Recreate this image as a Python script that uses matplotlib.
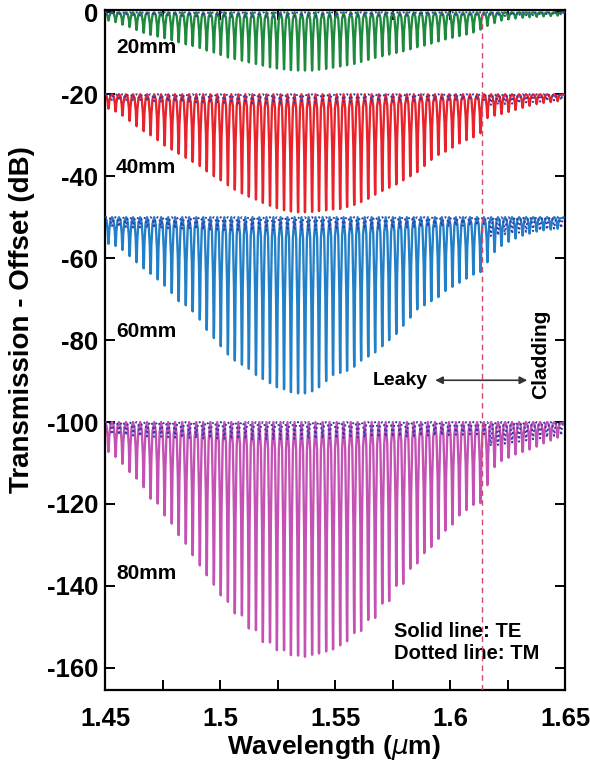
import numpy as np
import matplotlib.pyplot as plt

plt.rcParams['font.family'] = ['Liberation Sans', 'DejaVu Sans']
plt.rcParams['axes.unicode_minus'] = False

# resonance dip wavelengths (um)
dip_wl = [1.4515, 1.4546, 1.4576, 1.4607, 1.4637, 1.4668, 1.4698, 1.4729, 1.4759, 1.4790,
          1.4820, 1.4851, 1.4881, 1.4912, 1.4942, 1.4973, 1.5003, 1.5034, 1.5064, 1.5095,
          1.5125, 1.5156, 1.5186, 1.5217, 1.5247, 1.5278, 1.5308, 1.5339, 1.5369, 1.5400,
          1.5430, 1.5461, 1.5491, 1.5522, 1.5552, 1.5583, 1.5613, 1.5644, 1.5674, 1.5705,
          1.5735, 1.5766, 1.5796, 1.5827, 1.5857, 1.5888, 1.5918, 1.5949, 1.5979, 1.6010,
          1.6040, 1.6071, 1.6101, 1.6132, 1.6162, 1.6193, 1.6223, 1.6254, 1.6284, 1.6315,
          1.6345, 1.6376, 1.6406, 1.6437, 1.6467]

# TE dip bottoms (dB, offset already applied)
te_20mm = [-2.0, -2.4, -3.0, -3.6, -4.3, -5.0, -5.5, -5.9, -6.3, -6.8,
           -7.3, -7.8, -8.2, -8.7, -9.3, -9.8, -10.4, -11.0, -11.4, -11.8,
           -12.2, -12.6, -13.0, -13.4, -13.7, -13.9, -14.1, -14.2, -14.2, -14.2,
           -14.0, -13.8, -13.5, -13.2, -12.9, -12.6, -12.1, -11.6, -11.1, -10.7,
           -10.3, -9.9, -9.5, -9.0, -8.5, -8.1, -7.6, -7.1, -6.6, -6.2,
           -5.8, -5.4, -4.9, -4.2, -3.3, -2.6, -2.0, -1.7, -1.5, -1.3,
           -1.2, -1.1, -1.0, -0.9, -0.8]
te_40mm = [-23.5, -24.2, -25.2, -26.5, -27.8, -29.0, -30.0, -31.2, -32.5, -33.5,
           -34.5, -35.5, -36.5, -37.5, -38.8, -40.0, -41.0, -42.2, -43.3, -44.2,
           -45.0, -45.7, -46.5, -47.2, -47.8, -48.3, -48.6, -48.8, -48.8, -48.7,
           -48.5, -48.3, -48.1, -48.0, -47.5, -47.0, -46.3, -45.5, -44.5, -43.6,
           -42.8, -42.0, -41.0, -40.0, -39.0, -37.5, -36.0, -34.8, -34.0, -33.0,
           -32.0, -31.2, -30.5, -29.5, -25.8, -25.2, -24.8, -24.3, -23.8, -23.3,
           -22.8, -22.4, -22.1, -21.9, -21.7]
te_60mm = [-56.5, -57.0, -58.0, -59.5, -61.0, -62.5, -63.8, -65.2, -66.7, -68.5,
           -70.5, -71.5, -73.0, -75.0, -77.5, -79.5, -81.5, -83.5, -85.0, -86.0,
           -87.0, -88.5, -89.5, -90.5, -91.5, -92.0, -92.7, -93.0, -93.0, -92.5,
           -91.5, -90.0, -88.5, -88.0, -87.5, -86.5, -85.0, -84.0, -83.0, -81.5,
           -80.0, -78.5, -76.5, -74.5, -72.5, -71.5, -70.5, -69.5, -68.0, -67.0,
           -66.0, -65.0, -64.0, -63.4, -61.0, -58.5, -57.0, -56.0, -55.2, -54.5,
           -54.0, -53.5, -53.2, -53.0, -52.8]
te_80mm = [-107.3, -108.5, -110.2, -112.2, -113.8, -115.9, -118.7, -119.9, -122.8, -124.8,
           -127.6, -129.7, -132.5, -135.0, -137.4, -139.7, -142.3, -143.9, -146.7, -147.2,
           -150.4, -150.8, -153.7, -153.8, -155.7, -155.7, -156.9, -157.0, -157.3, -156.8,
           -156.5, -156.0, -155.5, -154.5, -153.5, -151.5, -151.0, -148.3, -147.8, -144.3,
           -143.7, -140.0, -139.5, -135.8, -134.5, -132.0, -130.5, -128.5, -126.5, -125.0,
           -122.8, -121.5, -120.2, -119.8, -115.4, -111.0, -109.5, -108.7, -107.9, -107.3,
           -106.7, -106.0, -105.2, -104.5, -103.8]

# TM dip depth below each offset (dB)
tm_20mm = [0.6, 0.7, 0.6, 0.7, 0.8, 0.7, 0.8, 0.8, 0.9, 0.8,
           0.9, 0.9, 1.0, 0.9, 1.0, 1.0, 1.0, 1.1, 1.0, 1.1,
           1.1, 1.0, 1.1, 1.1, 1.0, 1.1, 1.0, 1.1, 1.0, 1.0,
           1.0, 0.9, 1.0, 0.9, 0.9, 0.9, 0.8, 0.9, 0.8, 0.8,
           0.8, 0.7, 0.8, 0.7, 0.7, 0.7, 0.6, 0.7, 0.6, 0.6,
           0.6, 0.6, 0.6, 0.6, 0.8, 0.9, 0.9, 0.8, 0.8, 0.7,
           0.7, 0.6, 0.6, 0.5, 0.5]
tm_40mm = [1.4, 1.5, 1.5, 1.6, 1.6, 1.7, 1.7, 1.8, 1.8, 1.9,
           1.9, 2.0, 2.0, 2.0, 2.1, 2.1, 2.1, 2.2, 2.2, 2.2,
           2.2, 2.2, 2.2, 2.2, 2.2, 2.2, 2.1, 2.1, 2.1, 2.1,
           2.0, 2.0, 2.0, 1.9, 1.9, 1.9, 1.8, 1.8, 1.8, 1.7,
           1.7, 1.7, 1.6, 1.6, 1.6, 1.5, 1.5, 1.5, 1.4, 1.4,
           1.4, 1.4, 1.4, 1.4, 2.6, 2.5, 2.4, 2.3, 2.2, 2.0,
           1.9, 1.8, 1.6, 1.5, 1.4]
tm_60mm = [2.2, 2.3, 2.4, 2.5, 2.5, 2.6, 2.6, 2.7, 2.7, 2.8,
           2.8, 2.9, 2.9, 3.0, 3.0, 3.0, 3.1, 3.1, 3.1, 3.1,
           3.2, 3.2, 3.2, 3.2, 3.2, 3.2, 3.1, 3.1, 3.1, 3.1,
           3.0, 3.0, 3.0, 2.9, 2.9, 2.8, 2.8, 2.7, 2.7, 2.6,
           2.6, 2.5, 2.5, 2.4, 2.4, 2.3, 2.3, 2.2, 2.2, 2.1,
           2.1, 2.0, 2.0, 2.0, 4.6, 4.4, 4.2, 4.0, 3.8, 3.6,
           3.4, 3.2, 3.0, 2.8, 2.6]
tm_80mm = [3.0, 3.1, 3.2, 3.3, 3.4, 3.5, 3.6, 3.6, 3.7, 3.8,
           3.8, 3.9, 3.9, 4.0, 4.0, 4.0, 4.1, 4.1, 4.1, 4.1,
           4.2, 4.2, 4.2, 4.2, 4.2, 4.2, 4.1, 4.1, 4.1, 4.1,
           4.0, 4.0, 4.0, 3.9, 3.9, 3.8, 3.8, 3.7, 3.7, 3.6,
           3.6, 3.5, 3.5, 3.4, 3.4, 3.3, 3.3, 3.2, 3.2, 3.1,
           3.1, 3.0, 3.0, 3.0, 5.8, 5.6, 5.3, 5.0, 4.8, 4.5,
           4.2, 4.0, 3.7, 3.4, 3.2]

offsets = [0, -20, -50, -100]
lengths = ['20mm', '40mm', '60mm', '80mm']
te_curves = [te_20mm, te_40mm, te_60mm, te_80mm]
tm_curves = [tm_20mm, tm_40mm, tm_60mm, tm_80mm]
colors = ['#1e8a3e', '#e8232b', '#2280c8', '#c452b4']
label_y = [-8.5, -37.8, -78.0, -137.0]
cutoff = 1.614

# shape of a single resonance (fraction of half spacing, fraction of depth)
shape_dx = [-1.0, -0.55, -0.22, -0.07, 0.0, 0.07, 0.22, 0.55]
shape_dy = [0.0, 0.12, 0.5, 0.9, 1.0, 0.9, 0.5, 0.12]


def comb(centres, bottoms, base):
    c = np.asarray(centres)
    b = np.asarray(bottoms)
    half = np.gradient(c) / 2
    xs, ys = [1.45], [base]
    for ci, bi, hi in zip(c, b, half):
        for fx, fy in zip(shape_dx, shape_dy):
            xs.append(ci + fx * hi)
            ys.append(base + fy * (bi - base))
    xs.append(1.65)
    ys.append(base)
    return xs, ys


fig = plt.figure(figsize=(5.9, 7.62), dpi=100)
ax = fig.add_axes([0.178, 0.0945, 0.78, 0.892])

tm_shift = 0.0015
for off, te, tm, col, name, ly in zip(offsets, te_curves, tm_curves, colors, lengths, label_y):
    x, y = comb(dip_wl, te, off)
    ax.plot(x, y, color=col, lw=1.7, zorder=2)
    x2, y2 = comb(np.asarray(dip_wl) + tm_shift, off - np.asarray(tm), off)
    ax.plot(x2, y2, color='#3a3aa6', lw=1.4, ls=(0, (1, 1.3)), zorder=3)
    ax.text(1.4548, ly, name, fontsize=15, fontweight='bold', va='center', ha='left')

ax.axvline(cutoff, color='#d24a6a', lw=1.0, ls=(0, (4, 3)), zorder=4)

ax.annotate('', xy=(1.6335, -89.8), xytext=(1.5935, -89.8),
            arrowprops=dict(arrowstyle='<|-|>', lw=1.2, color='#333333',
                            mutation_scale=11, shrinkA=0, shrinkB=0))
ax.text(1.5905, -89.8, 'Leaky', fontsize=14, fontweight='bold', ha='right', va='center')
ax.text(1.6395, -83.5, 'Cladding', fontsize=15, fontweight='bold', rotation=90,
        ha='center', va='center')
ax.text(1.5757, -151.2, 'Solid line: TE', fontsize=14.5, fontweight='bold', va='center')
ax.text(1.5757, -156.6, 'Dotted line: TM', fontsize=14.5, fontweight='bold', va='center')

ax.set_xlim(1.45, 1.65)
ax.set_ylim(-165.4, 0.5)
ax.set_xticks([1.45, 1.5, 1.55, 1.6, 1.65])
ax.set_xticklabels(['1.45', '1.5', '1.55', '1.6', '1.65'])
ax.set_xticks([1.475, 1.525, 1.575, 1.625], minor=True)
ax.set_yticks(np.arange(0, -161, -20))
ax.tick_params(which='both', direction='in', top=True, right=True, width=1.4,
               labelsize=18.5, length=7)
ax.tick_params(axis='x', pad=12)
ax.tick_params(axis='y', pad=5)
for lab in ax.get_xticklabels() + ax.get_yticklabels():
    lab.set_fontweight('bold')
for s in ax.spines.values():
    s.set_linewidth(1.6)

ax.set_xlabel(r'Wavelength ($\mu$m)', fontsize=19, fontweight='bold')
ax.set_ylabel('Transmission - Offset (dB)', fontsize=20, fontweight='bold')
ax.xaxis.set_label_coords(0.498, -0.064)
ax.yaxis.set_label_coords(-0.152, 0.545)

fig.savefig('out.png', dpi=100)
